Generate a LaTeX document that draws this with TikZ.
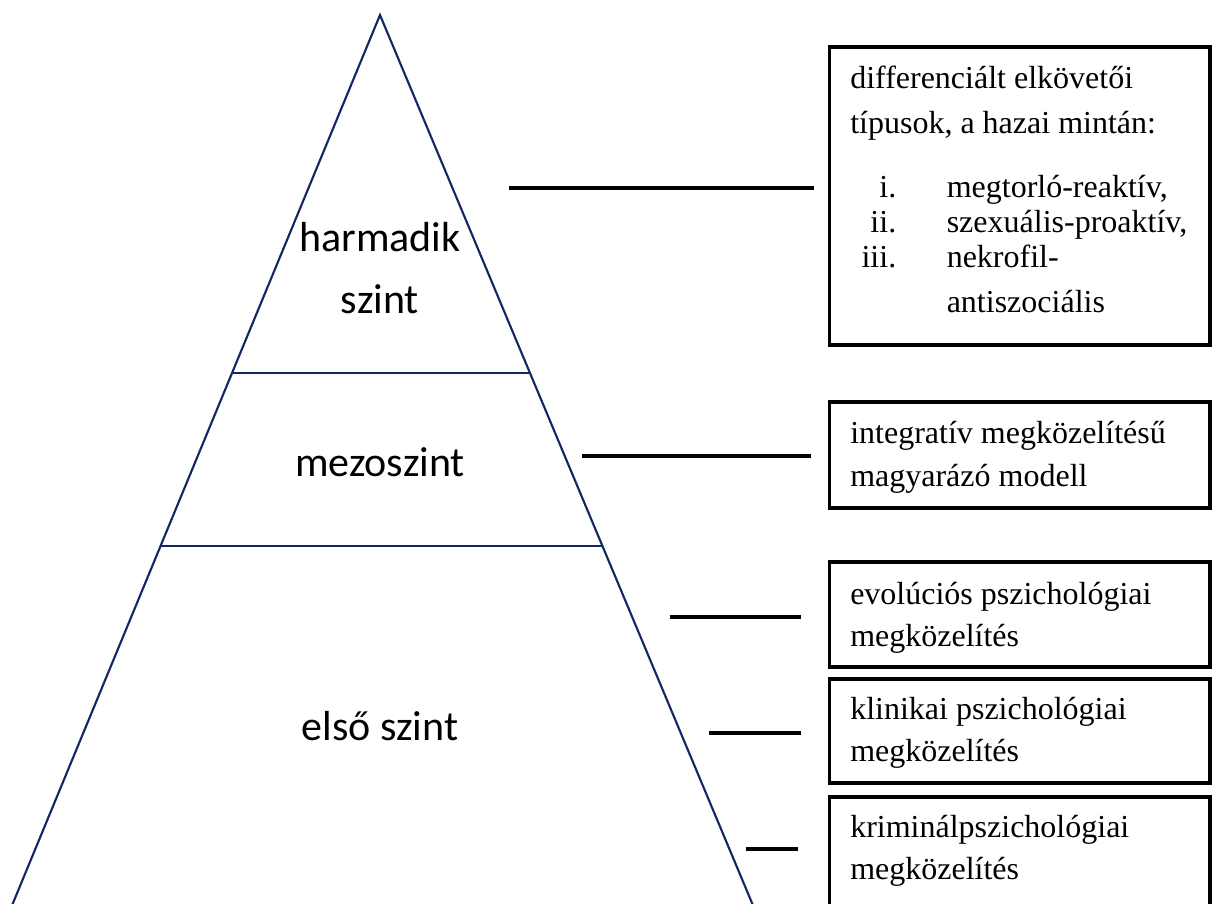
\documentclass[tikz,border=0pt]{standalone}
\usepackage{fontspec}
\setmainfont{Liberation Serif}
\newfontfamily\calib{Carlito}
\usetikzlibrary{calc,fit}
\definecolor{pyr}{RGB}{18,40,100}
\begin{document}
\begin{tikzpicture}[x=0.75pt,y=-0.75pt,
  pyrline/.style={draw=pyr,line width=1.6pt,line join=miter},
  conn/.style={draw=black,line width=3pt},
  box/.style={draw=black,line width=2.6pt,inner sep=0pt,outer sep=0pt},
  lvl/.style={font=\calib\fontsize{31.5}{38}\selectfont,anchor=base,inner sep=0pt},
  btxt/.style={font=\fontsize{24}{28}\selectfont,anchor=base west,inner sep=0pt},
  bnum/.style={font=\fontsize{24}{28}\selectfont,anchor=base east,inner sep=0pt}]
\useasboundingbox (0,0) rectangle (1212,903);
% pyramid
\coordinate (apex) at (380,15);
\coordinate (bl) at (13,903);
\coordinate (br) at (752,903);
\draw[pyrline] ($(apex)!1.02!(bl)$) -- (apex) -- ($(apex)!1.02!(br)$);
\draw[pyrline] ($(apex)!0.4032!(bl)$) -- ($(apex)!0.4032!(br)$);
\draw[pyrline] ($(apex)!0.5980!(bl)$) -- ($(apex)!0.5980!(br)$);
% level labels
\node[lvl] (l3a) at (380,251) {harmadik};
\node[lvl] (l3b) at (380,313) {szint};
\node[lvl] (l2) at (380,476) {mezoszint};
\node[lvl] (l1) at (380,740) {első szint};
% boxes
\path (829.5,47) coordinate (b1a) (1210,345) coordinate (b1b);
\node[box,fit=(b1a)(b1b)] (b1) {};
\path (829.5,402) coordinate (b2a) (1210,508) coordinate (b2b);
\node[box,fit=(b2a)(b2b)] (b2) {};
\path (829.5,562) coordinate (b3a) (1210,667) coordinate (b3b);
\node[box,fit=(b3a)(b3b)] (b3) {};
\path (829.5,679) coordinate (b4a) (1210,783) coordinate (b4b);
\node[box,fit=(b4a)(b4b)] (b4) {};
\path (829.5,797) coordinate (b5a) (1210,915) coordinate (b5b);
\node[box,fit=(b5a)(b5b)] (b5) {};
% box texts
\node[btxt] (t1a) at (850,88) {differenciált elkövetői};
\node[btxt] (t1b) at (850,133) {típusok, a hazai mintán:};
\node[bnum] (n1) at (896.5,197) {i.};
\node[btxt] (i1) at (946.5,197) {megtorló-reaktív,};
\node[bnum] (n2) at (896.5,232) {ii.};
\node[btxt] (i2) at (946.5,232) {szexuális-proaktív,};
\node[bnum] (n3) at (896.5,267) {iii.};
\node[btxt] (i3a) at (946.5,267) {nekrofil-};
\node[btxt] (i3b) at (946.5,312) {antiszociális};
\node[btxt] (t2a) at (850,443) {integratív megközelítésű};
\node[btxt] (t2b) at (850,486) {magyarázó modell};
\node[btxt] (t3a) at (850,604) {evolúciós pszichológiai};
\node[btxt] (t3b) at (850,646) {megközelítés};
\node[btxt] (t4a) at (850,719) {klinikai pszichológiai};
\node[btxt] (t4b) at (850,761) {megközelítés};
\node[btxt] (t5a) at (850,837) {kriminálpszichológiai};
\node[btxt] (t5b) at (850,879) {megközelítés};
% connectors
\coordinate (c1s) at (509,188); \coordinate (c1e) at (814,188);
\coordinate (c2s) at (582,456); \coordinate (c2e) at (811,456);
\coordinate (c3s) at (670,617); \coordinate (c3e) at (800.5,617);
\coordinate (c4s) at (709,733); \coordinate (c4e) at (800.5,733);
\coordinate (c5s) at (746,849); \coordinate (c5e) at (798,849);
\draw[conn] (c1s) -- (c1e);
\draw[conn] (c2s) -- (c2e);
\draw[conn] (c3s) -- (c3e);
\draw[conn] (c4s) -- (c4e);
\draw[conn] (c5s) -- (c5e);
\end{tikzpicture}
\end{document}
